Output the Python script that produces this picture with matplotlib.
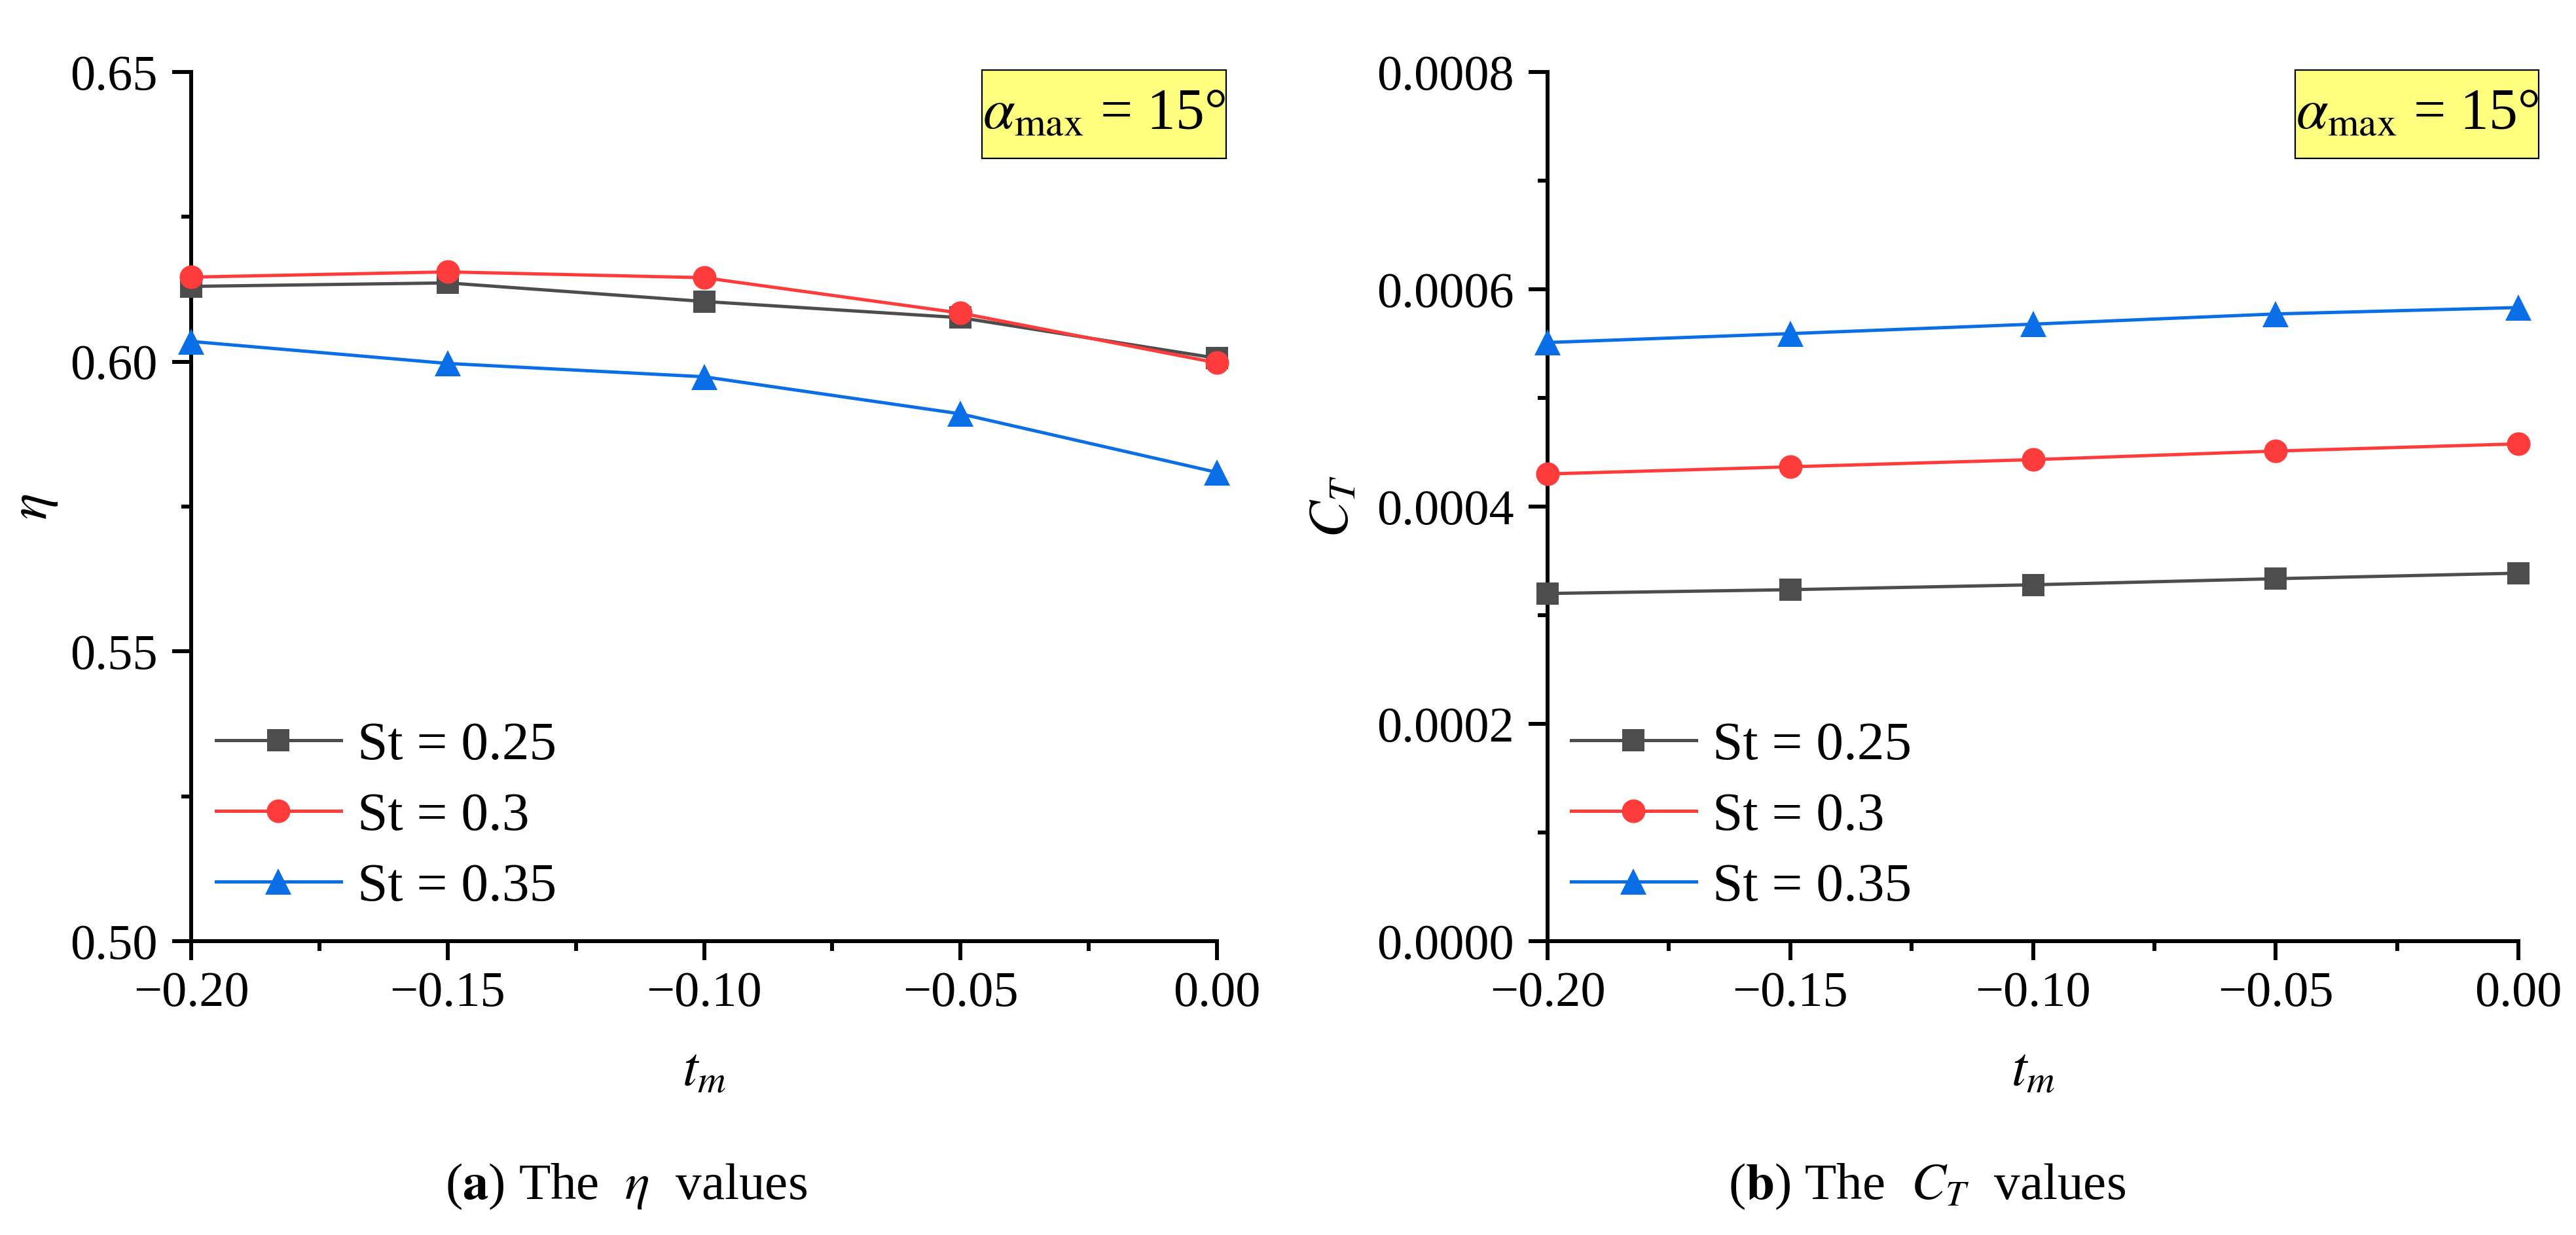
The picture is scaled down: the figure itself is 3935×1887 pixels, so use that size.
import matplotlib
matplotlib.use("Agg")
import matplotlib.pyplot as plt
from matplotlib.ticker import MultipleLocator, FuncFormatter
from matplotlib.patches import Rectangle

# ---------------- data ----------------
tm = [-0.20, -0.15, -0.10, -0.05, 0.00]
series_labels = ["St = 0.25", "St = 0.3", "St = 0.35"]
eta_st025 = [0.6130, 0.6136, 0.6104, 0.6076, 0.6006]
eta_st030 = [0.6146, 0.6155, 0.6145, 0.6084, 0.5998]
eta_st035 = [0.6035, 0.5997, 0.5974, 0.5910, 0.5809]
ct_st025 = [0.000320, 0.0003235, 0.000328, 0.0003336, 0.0003387]
ct_st030 = [0.000430, 0.0004366, 0.0004432, 0.0004511, 0.0004577]
ct_st035 = [0.000551, 0.0005592, 0.0005679, 0.0005773, 0.0005832]
box_text = r"$\alpha_{\mathrm{max}}$ = 15°"
caption_a = r"($\mathbf{a}$) The  $\eta$  values"
caption_b = r"($\mathbf{b}$) The  $C_T$  values"

# ---------------- style ----------------
plt.rcParams["font.family"] = ["Liberation Serif", "DejaVu Serif"]
plt.rcParams["mathtext.fontset"] = "stix"
FS_TICK = 55
FS_LEG = 60
FS_LAB = 61
FS_BOX = 63
FS_CAP = 57

colors = ["#4d4d4d", "#ff3c3c", "#0a6ee6"]
markers = ["s", "o", "^"]
msizes = [24.5, 26, 29]

W, H = 3935, 1887
fig = plt.figure(figsize=(W / 100, H / 100), dpi=100)

ax1 = fig.add_axes([292 / W, 1 - 1438 / H, 1567 / W, 1328 / H])
ax2 = fig.add_axes([2364 / W, 1 - 1438 / H, 1483 / W, 1328 / H])


def minus_fmt(dec):
    def f(v, pos):
        if abs(v) < 1e-12:
            v = 0.0
        return (f"{v:.{dec}f}").replace("-", "\u2212")
    return FuncFormatter(f)


def style_axes(ax, ylo, yhi, ymaj, ymin, ydec):
    ax.set_xlim(-0.20, 0.0)
    ax.set_ylim(ylo, yhi)
    ax.xaxis.set_major_locator(MultipleLocator(0.05))
    ax.xaxis.set_minor_locator(MultipleLocator(0.025))
    ax.yaxis.set_major_locator(MultipleLocator(ymaj))
    ax.yaxis.set_minor_locator(MultipleLocator(ymin))
    ax.xaxis.set_major_formatter(minus_fmt(2))
    ax.yaxis.set_major_formatter(minus_fmt(ydec))
    for s in ["top", "right"]:
        ax.spines[s].set_visible(False)
    for s in ["left", "bottom"]:
        ax.spines[s].set_linewidth(4.3)
    ax.tick_params(which="major", direction="out", length=21, width=4.3,
                   labelsize=FS_TICK)
    ax.tick_params(which="minor", direction="out", length=10.5, width=4.3)
    ax.tick_params(axis="x", which="major", pad=12)
    ax.tick_params(axis="y", which="major", pad=16)


def plot_series(ax, ys):
    for y, lab, c, m, ms in zip(ys, series_labels, colors, markers, msizes):
        ax.plot(tm, y, color=c, marker=m, markersize=ms, linewidth=3.6,
                markeredgewidth=0, label=lab, clip_on=False, zorder=3)
    ax.legend(loc="lower left", bbox_to_anchor=(0.024, 0.033),
              frameon=False, fontsize=FS_LEG, handlelength=2.3,
              handletextpad=0.3, labelspacing=0.38, borderpad=0,
              borderaxespad=0)


plot_series(ax1, [eta_st025, eta_st030, eta_st035])
style_axes(ax1, 0.50, 0.65, 0.05, 0.025, 2)
ax1.set_ylabel(r"$\eta$", fontsize=FS_LAB)
ax1.yaxis.set_label_coords(-0.128, 0.5)

plot_series(ax2, [ct_st025, ct_st030, ct_st035])
style_axes(ax2, 0.0, 0.0008, 0.0002, 0.0001, 4)
ax2.set_ylabel(r"$C_T$", fontsize=FS_LAB)
ax2.yaxis.set_label_coords(-0.193, 0.5)

for ax in (ax1, ax2):
    ax.set_xlabel(r"$t_m$", fontsize=FS_LAB)
    ax.xaxis.set_label_coords(0.5, -0.122)

# yellow annotation boxes (figure pixel coordinates)
for x0, x1 in [(1500, 1873), (3506, 3878)]:
    rect = Rectangle((x0 / W, 1 - 242 / H), (x1 - x0) / W, 135 / H,
                     transform=fig.transFigure, facecolor="#ffff7f",
                     edgecolor="black", linewidth=1.6, zorder=5)
    fig.patches.append(rect)
    fig.text((x0 + x1) / 2 / W, 1 - 196 / H, box_text, fontsize=FS_BOX,
             ha="center", va="baseline", zorder=6)

fig.text(957 / W, 1 - 1832 / H, caption_a, fontsize=FS_CAP, ha="center",
         va="baseline")
fig.text(2944 / W, 1 - 1832 / H, caption_b, fontsize=FS_CAP, ha="center",
         va="baseline")

fig.savefig("out.png", dpi=100, facecolor="white")
